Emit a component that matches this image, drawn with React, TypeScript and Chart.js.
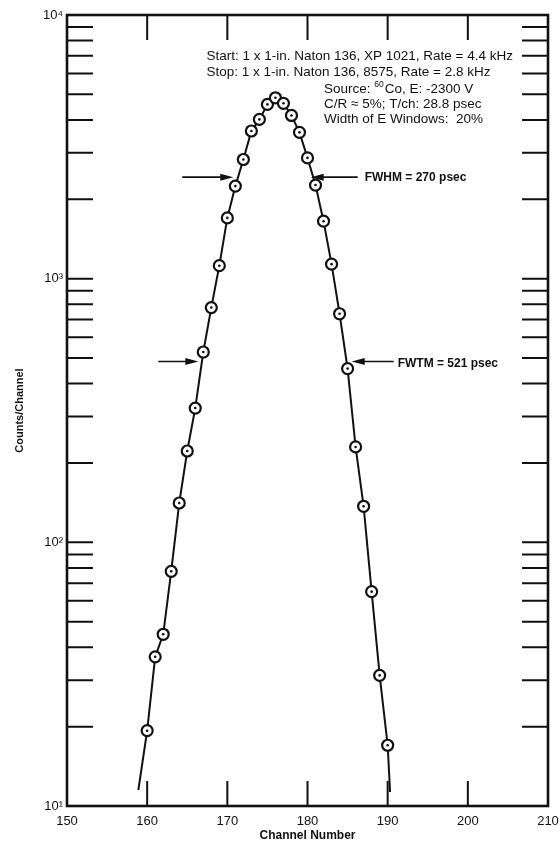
import { useEffect, useRef } from 'react';
import { Chart, registerables } from 'chart.js';

Chart.register(...registerables);

// ---- data ----
const channels = [
  160, 161, 162, 163, 164, 165, 166, 167, 168, 169, 170, 171, 172, 173, 174, 175,
  176, 177, 178, 179, 180, 181, 182, 183, 184, 185, 186, 187, 188, 189, 190,
];
const counts = [
  19.3, 36.8, 44.8, 77.6, 141, 222, 323, 527, 777, 1120, 1700, 2244, 2831, 3631, 4018, 4581,
  4853, 4624, 4159, 3589, 2871, 2265, 1652, 1135, 736, 456, 230, 137, 65, 31.3, 17.0,
];
// curve drawn through the points, extended a little beyond the ends
const curveStartChannel = [158.9];
const curveStartCount = [11.5];
const curveEndChannel = [190.3];
const curveEndCount = [11.3];

const xTickValues = [150, 160, 170, 180, 190, 200, 210];
const xInnerTicks = [160, 170, 180, 190, 200];
const yLabelValues = [10, 100, 1000, 10000];
const yDecades = [10, 100, 1000];
const yMultipliers = [1, 2, 3, 4, 5, 6, 7, 8, 9];

// each line is a list of [text, isSuperscript] segments
const infoLines: [string, boolean][][] = [
  [['Start: 1 x 1-in. Naton 136, XP 1021, Rate = 4.4 kHz', false]],
  [['Stop: 1 x 1-in. Naton 136, 8575, Rate = 2.8 kHz', false]],
  [['Source: ', false], ['60', true], ['Co, E: -2300 V', false]],
  [['C/R \u2248 5%; T/ch: 28.8 psec', false]],
  [['Width of E Windows:  20%', false]],
];
const fwhmLabel = 'FWHM = 270 psec';
const fwtmLabel = 'FWTM = 521 psec';
const fwhmEdges = [170.74, 180.4];
const fwtmEdges = [166.38, 185.51];

const SUP: Record<string, string> = {
  '0': '\u2070', '1': '\u00b9', '2': '\u00b2', '3': '\u00b3', '4': '\u2074',
  '5': '\u2075', '6': '\u2076', '7': '\u2077', '8': '\u2078', '9': '\u2079',
};

const INK = '#111';
const FONT = '"Liberation Sans", Arial, sans-serif';

function drawArrow(ctx: CanvasRenderingContext2D, tipX: number, y: number, tailX: number) {
  const dir = Math.sign(tipX - tailX);
  ctx.beginPath();
  ctx.moveTo(tailX, y);
  ctx.lineTo(tipX - dir * 8, y);
  ctx.stroke();
  ctx.beginPath();
  ctx.moveTo(tipX, y);
  ctx.lineTo(tipX - dir * 13, y - 3.5);
  ctx.lineTo(tipX - dir * 13, y + 3.5);
  ctx.closePath();
  ctx.fill();
}

const decorPlugin = {
  id: 'decor',
  afterDatasetsDraw(chart: any) {
    const { ctx, chartArea: a, scales } = chart;
    const xs = scales.x;
    const ys = scales.y;
    ctx.save();
    ctx.strokeStyle = INK;
    ctx.fillStyle = INK;
    ctx.lineWidth = 2;
    const TL = 26;
    // inward y ticks on both sides
    for (const d of yDecades) {
      for (const m of yMultipliers) {
        const v = d * m;
        if (v <= 10) continue;
        const py = ys.getPixelForValue(v);
        ctx.beginPath();
        ctx.moveTo(a.left, py);
        ctx.lineTo(a.left + TL, py);
        ctx.moveTo(a.right - TL, py);
        ctx.lineTo(a.right, py);
        ctx.stroke();
      }
    }
    // inward x ticks top and bottom
    for (const v of xInnerTicks) {
      const px = xs.getPixelForValue(v);
      ctx.beginPath();
      ctx.moveTo(px, a.bottom);
      ctx.lineTo(px, a.bottom - 25);
      ctx.moveTo(px, a.top);
      ctx.lineTo(px, a.top + 25);
      ctx.stroke();
    }
    // frame
    ctx.lineWidth = 2.6;
    ctx.strokeRect(a.left, a.top, a.right - a.left, a.bottom - a.top);

    // FWHM / FWTM arrows
    const peak = Math.max(...counts);
    ctx.lineWidth = 1.6;
    const yH = ys.getPixelForValue(peak / 2);
    const yT = ys.getPixelForValue(peak / 10);
    const hL = xs.getPixelForValue(fwhmEdges[0]);
    const hR = xs.getPixelForValue(fwhmEdges[1]);
    const tL = xs.getPixelForValue(fwtmEdges[0]);
    const tR = xs.getPixelForValue(fwtmEdges[1]);
    drawArrow(ctx, hL, yH, hL - 51);
    drawArrow(ctx, hR, yH, hR + 47);
    drawArrow(ctx, tL, yT, tL - 40);
    drawArrow(ctx, tR, yT, tR + 42);
    ctx.font = `bold 12px ${FONT}`;
    ctx.textBaseline = 'middle';
    ctx.textAlign = 'left';
    ctx.fillText(fwhmLabel, hR + 54, yH + 1);
    ctx.fillText(fwtmLabel, tR + 46, yT + 2);

    // info block
    const mainFont = `13.5px ${FONT}`;
    const supFont = `8.5px ${FONT}`;
    ctx.font = mainFont;
    const endX = a.right - 35;
    const x1 = endX - ctx.measureText(infoLines[0][0][0]).width;
    const x3 = a.left + 257;
    const lineY = [56, 72.5, 89, 104, 119];
    infoLines.forEach((segs, i) => {
      let x = i < 2 ? x1 : x3;
      for (const [t, sup] of segs) {
        ctx.font = sup ? supFont : mainFont;
        ctx.fillText(t, x, sup ? lineY[i] - 4 : lineY[i]);
        x += ctx.measureText(t).width + (sup ? 1 : 0);
      }
    });
    ctx.restore();
  },
};

export default function App() {
  const ref = useRef<HTMLCanvasElement | null>(null);
  useEffect(() => {
    document.body.style.margin = '0';
    const canvas = ref.current;
    if (!canvas) return;
    const pts = channels.map((c, i) => ({ x: c, y: counts[i] }));
    const curve = [
      { x: curveStartChannel[0], y: curveStartCount[0] },
      ...pts,
      { x: curveEndChannel[0], y: curveEndCount[0] },
    ];
    const chart = new Chart(canvas, {
      type: 'line',
      data: {
        datasets: [
          {
            data: pts,
            showLine: false,
            pointRadius: 1.3,
            pointBackgroundColor: INK,
            pointBorderWidth: 0,
            order: 0,
          },
          {
            data: pts,
            showLine: false,
            pointRadius: 5.5,
            pointBorderWidth: 2.2,
            pointBorderColor: INK,
            pointBackgroundColor: '#fff',
            order: 1,
          },
          {
            data: curve,
            borderColor: INK,
            borderWidth: 2,
            pointRadius: 0,
            tension: 0,
            order: 2,
          },
        ],
      },
      options: {
        animation: false,
        responsive: false,
        parsing: false as any,
        layout: { padding: { top: 15, right: 12, left: 0, bottom: 0 } },
        plugins: { legend: { display: false }, tooltip: { enabled: false } },
        scales: {
          x: {
            type: 'linear',
            min: 150,
            max: 210,
            grid: { display: false, drawTicks: false },
            border: { display: false },
            afterBuildTicks: (s: any) => {
              s.ticks = xTickValues.map((v) => ({ value: v }));
            },
            afterFit: (s: any) => {
              s.height = 40;
              s.paddingLeft = 0;
              s.paddingRight = 0;
            },
            ticks: {
              autoSkip: false,
              maxRotation: 0,
              padding: 8,
              color: INK,
              font: { family: FONT, size: 13 },
            },
            title: {
              display: true,
              text: 'Channel Number',
              color: INK,
              padding: { top: 0, bottom: 3 },
              font: { family: FONT, size: 12, weight: 'bold' },
            },
          },
          y: {
            type: 'logarithmic',
            min: 10,
            max: 10000,
            grid: { display: false, drawTicks: false },
            border: { display: false },
            afterBuildTicks: (s: any) => {
              s.ticks = yLabelValues.map((v) => ({ value: v }));
            },
            afterFit: (s: any) => {
              s.width = 67;
              s.paddingTop = 0;
              s.paddingBottom = 0;
            },
            ticks: {
              autoSkip: false,
              padding: 4,
              color: INK,
              font: { family: FONT, size: 13 },
              callback: (v: any) => {
                const e = Math.round(Math.log10(Number(v)));
                return '10' + String(e).split('').map((ch) => SUP[ch]).join('');
              },
            },
            title: {
              display: true,
              text: 'Counts/Channel',
              color: INK,
              padding: { top: 13, bottom: 0 },
              font: { family: FONT, size: 11, weight: 'bold' },
            },
          },
        },
      },
      plugins: [decorPlugin],
    });
    return () => chart.destroy();
  }, []);
  return (
    <div style={{ width: 560, height: 846 }}>
      <canvas ref={ref} width={560} height={846} style={{ display: 'block' }} />
    </div>
  );
}
